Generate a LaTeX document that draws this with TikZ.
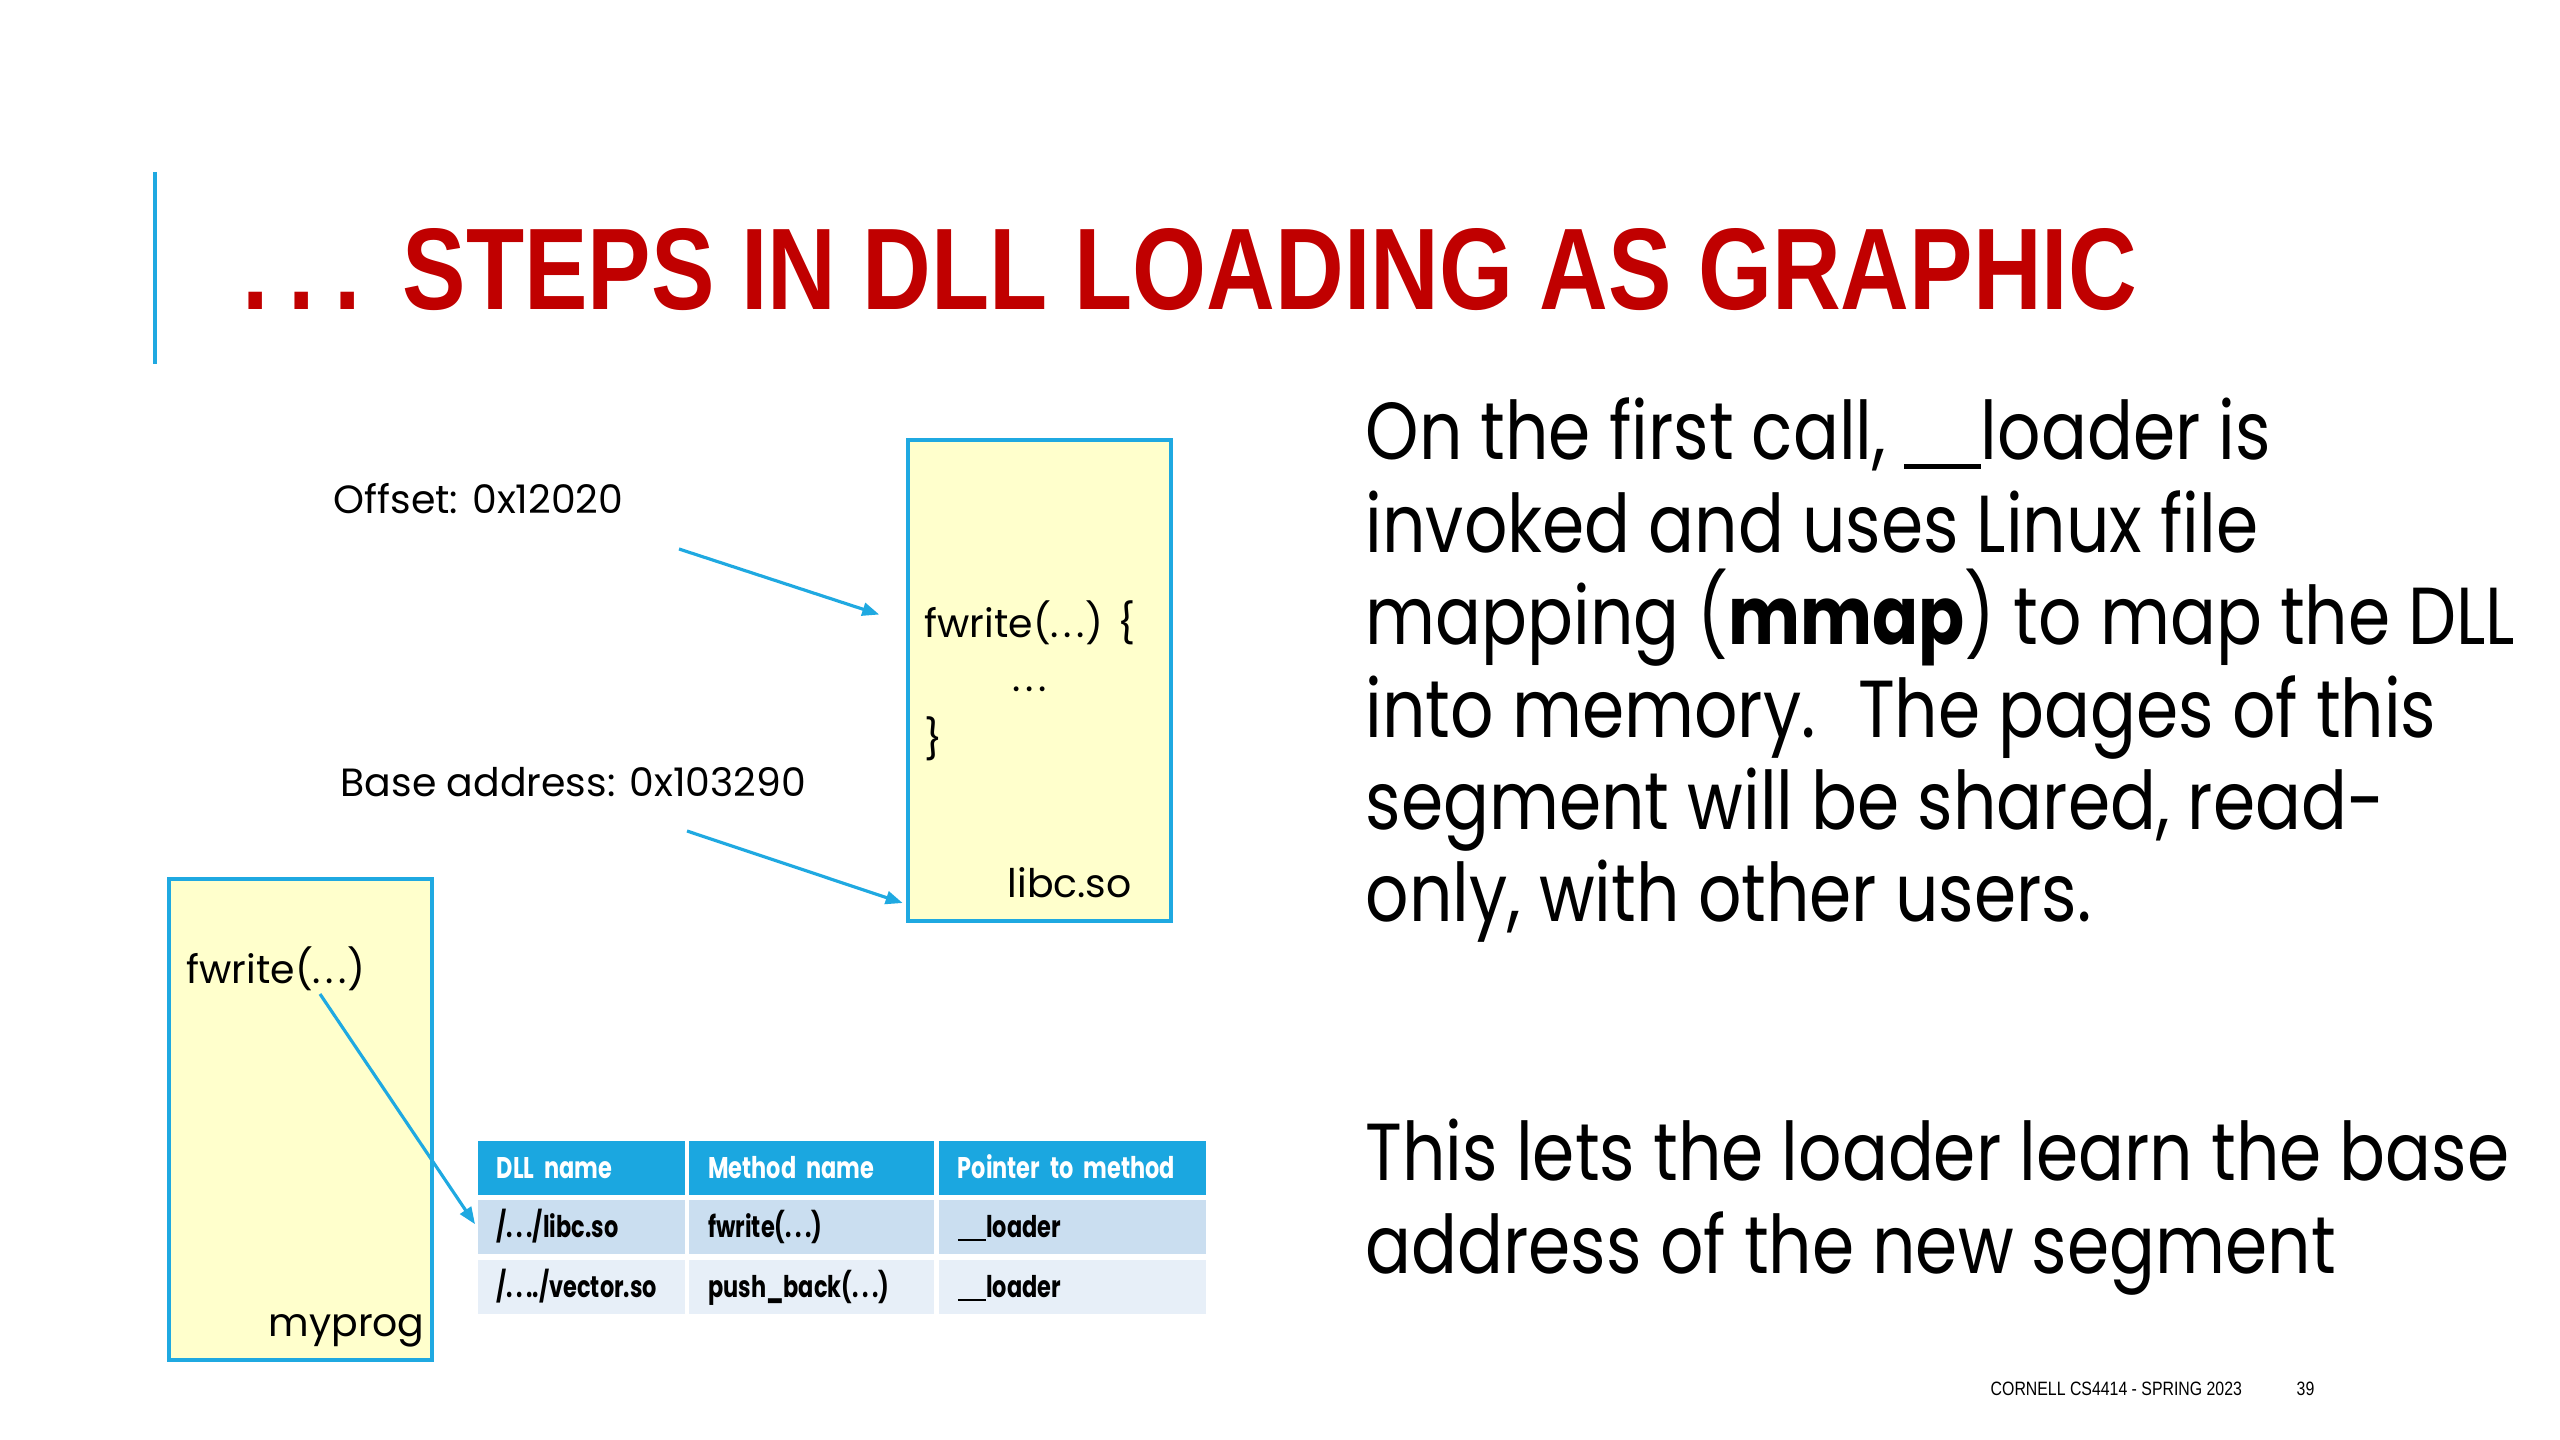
\documentclass[tikz,border=0pt]{standalone}
\usepackage{fontspec}
\setmainfont{Poppins}[FakeStretch=0.84]
\newfontfamily\tabfont{Poppins}[FakeStretch=0.75]
\newfontfamily\labfont{Poppins}
\newfontfamily\headfont[FakeStretch=0.82]{Liberation Sans}
\usetikzlibrary{arrows.meta,positioning}
\definecolor{slidered}{HTML}{C00000}
\definecolor{lineblue}{HTML}{1FA9E1}
\definecolor{memyellow}{HTML}{FFFFCC}
\definecolor{hdrblue}{HTML}{1BA7E0}
\definecolor{rowa}{HTML}{CADEF0}
\definecolor{rowb}{HTML}{E7EFF8}
\newcommand\tdots{.\kern0.12em.\kern0.12em.}
\newcommand\gapline{\rule[-0.12em]{0.95em}{0.07em}}
\begin{document}
\begin{tikzpicture}[x=0.01cm,y=-0.01cm,>={Triangle[length=1.7mm,width=1.3mm]},node distance=0.03cm,
  mem/.style={draw=lineblue,line width=1.1pt,fill=memyellow,minimum width=2.63cm,minimum height=4.81cm,anchor=north west},
  lbl/.style={inner sep=0,anchor=base west,font=\labfont\fontsize{11.2}{13}\selectfont},
  cell/.style={anchor=north west,minimum height=0.54cm,inner xsep=0.19cm,inner ysep=0,text width=#1,
    align=left,text height=1.6ex,text depth=0.5ex,font=\tabfont\bfseries\fontsize{8.5}{10}\selectfont},
  hd/.style={fill=hdrblue,text=white},
  ptr/.style={->,draw=lineblue,line width=0.9pt},
  para/.style={anchor=base west,inner sep=0,align=left,font=\fontsize{23}{26.3}\selectfont}]
\useasboundingbox (0,0) rectangle (2560,1440);
% title
\draw[lineblue,line width=1.2pt] (155,172) -- (155,364);
\node[anchor=base west,inner sep=0,text=slidered,font=\headfont\bfseries\fontsize{33}{33}\selectfont] (title) at (242,310)
  {.\kern5.5pt.\kern5.5pt.\hspace{12pt}STEPS IN DLL LOADING AS GRAPHIC};
% libc.so segment
\node[mem] (libc) at (906,438) {};
\node[lbl] (fwdef) at (924,638) {fwrite(\tdots) \{};
\node[lbl] (body) at (1012,692) {\tdots};
\node[lbl] (close) at (924,754) {\}};
\node[lbl] (libname) at (1007,898) {libc.so};
\node[lbl] (offs) at (333,514) {Offset: 0x12020};
\node[lbl] (base) at (340,797) {Base address: 0x103290};
\coordinate (offsend) at (679,549);
\coordinate (baseend) at (687,831);
\draw[ptr,shorten >=8pt] (offsend) -- (libc.west |- fwdef);
\draw[ptr,shorten >=1pt] (baseend) -- ([yshift=0.19cm]libc.south west);
% main program
\node[mem] (prog) at (167,877) {};
\node[lbl] (fwcall) at (186,983) {fwrite(\tdots)};
\node[lbl] (progname) at (268,1336) {myprog};
\coordinate (callend) at (320,994);
% table
\node[cell=1.69cm,hd] (h1) at (477,1140) {DLL name};
\node[cell=2.07cm,hd,right=of h1] (h2) {Method name};
\node[cell=2.29cm,hd,right=of h2] (h3) {Pointer to method};
\node[cell=1.69cm,fill=rowa,below=0.04cm of h1] (a1) {/\tdots/libc.so};
\node[cell=2.07cm,fill=rowa,right=of a1] (a2) {fwrite(\tdots)};
\node[cell=2.29cm,fill=rowa,right=of a2] (a3) {\gapline loader};
\node[cell=1.69cm,fill=rowb,below=0.04cm of a1] (b1) {/\tdots./vector.so};
\node[cell=2.07cm,fill=rowb,right=of b1] (b2) {push\_back(\tdots)};
\node[cell=2.29cm,fill=rowb,right=of b2] (b3) {\gapline loader};
\draw[ptr,shorten >=1pt] (callend) -- (a1.west);
% explanation
\node[para] (expl) at (1365,922)
  {On the first call, \gapline loader is\\invoked and uses Linux file\\mapping (\textbf{mmap}) to map the DLL\\into memory.~ The pages of this\\segment will be shared, read-\\only, with other users.};
\node[para] (learn) at (1365,1273)
  {This lets the loader learn the base\\address of the new segment};
% footer
\node[anchor=base west,inner sep=0,font=\headfont\fontsize{5.5}{6}\selectfont] (foot) at (1990,1395) {CORNELL CS4414 - SPRING 2023};
\node[anchor=base west,inner sep=0,font=\headfont\fontsize{5.5}{6}\selectfont] (page) at (2296,1395) {39};
\end{tikzpicture}
\end{document}
